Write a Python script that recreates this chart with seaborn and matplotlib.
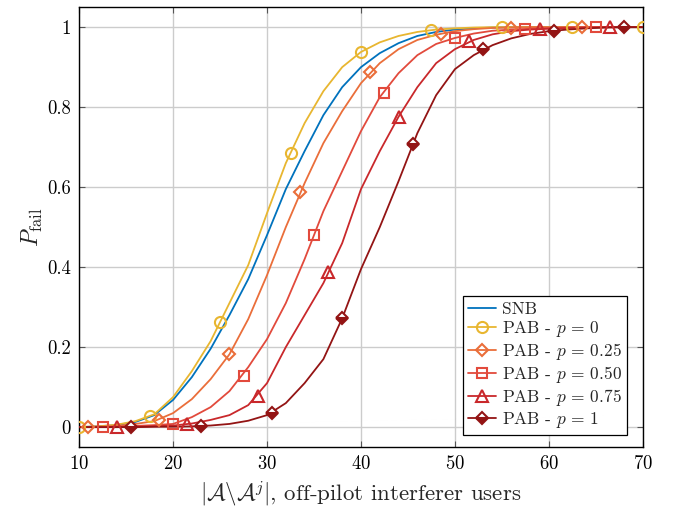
import numpy as np
import pandas as pd
import matplotlib
matplotlib.use("Agg")
import matplotlib.pyplot as plt
from matplotlib.lines import Line2D
import seaborn as sns

# ---------------- data ----------------
x_grid = [10, 12, 14, 16, 18, 20, 22, 24, 26, 28, 30, 32, 34, 36, 38, 40,
          42, 44, 46, 48, 50, 52, 54, 56, 58, 60, 62, 64, 66, 68, 70]

snb = [0, 0.002, 0.005, 0.013, 0.03, 0.068, 0.125, 0.196, 0.28, 0.37, 0.48,
       0.595, 0.69, 0.78, 0.85, 0.90, 0.935, 0.96, 0.978, 0.988, 0.994, 0.997,
       0.999, 1, 1, 1, 1, 1, 1, 1, 1]
pab_0 = [0, 0.002, 0.006, 0.015, 0.032, 0.075, 0.14, 0.215, 0.31, 0.405, 0.535,
         0.66, 0.76, 0.84, 0.90, 0.938, 0.962, 0.978, 0.988, 0.994, 0.997, 0.999,
         1, 1, 1, 1, 1, 1, 1, 1, 1]
pab_025 = [0, 0.001, 0.003, 0.008, 0.015, 0.035, 0.07, 0.12, 0.182, 0.27, 0.38,
           0.50, 0.61, 0.71, 0.79, 0.86, 0.91, 0.945, 0.968, 0.981, 0.99, 0.995,
           0.998, 0.999, 1, 1, 1, 1, 1, 1, 1]
pab_050 = [0, 0, 0.001, 0.003, 0.005, 0.008, 0.025, 0.05, 0.09, 0.15, 0.22,
           0.31, 0.42, 0.54, 0.64, 0.74, 0.825, 0.885, 0.93, 0.958, 0.973, 0.984,
           0.991, 0.994, 0.996, 0.998, 0.999, 1, 1, 1, 1]
pab_075 = [0, 0, 0, 0.001, 0.002, 0.004, 0.009, 0.018, 0.03, 0.055, 0.11,
           0.2, 0.28, 0.36, 0.46, 0.595, 0.69, 0.776, 0.85, 0.91, 0.945, 0.968,
           0.982, 0.99, 0.994, 0.996, 0.998, 0.999, 1, 1, 1]
pab_1 = [0, 0, 0, 0, 0.001, 0.001, 0.002, 0.004, 0.008, 0.016, 0.03,
         0.06, 0.11, 0.17, 0.272, 0.395, 0.5, 0.615, 0.735, 0.83, 0.895, 0.93,
         0.955, 0.972, 0.983, 0.99, 0.994, 0.997, 0.999, 1, 1]

# marker positions
mk_x_0 = [10, 17.5, 25, 32.5, 40, 47.5, 55, 62.5, 70]
mk_y_0 = [0, 0.027, 0.262, 0.686, 0.938, 0.993, 1, 1, 1]
mk_x_025 = [11, 18.5, 26, 33.5, 41, 48.5, 56, 63.5]
mk_y_025 = [0, 0.017, 0.182, 0.589, 0.888, 0.983, 0.999, 1]
mk_x_050 = [12.5, 20, 27.5, 35, 42.5, 50, 57.5, 65]
mk_y_050 = [0, 0.008, 0.127, 0.481, 0.835, 0.973, 0.995, 1]
mk_x_075 = [14, 21.5, 29, 36.5, 44, 51.5, 59, 66.5]
mk_y_075 = [0, 0.007, 0.077, 0.387, 0.776, 0.965, 0.995, 1]
mk_x_1 = [15.5, 23, 30.5, 38, 45.5, 53, 60.5, 68]
mk_y_1 = [0, 0.002, 0.035, 0.272, 0.708, 0.945, 0.99, 1]

labels = ["SNB", r"PAB - $p\,=\,0$", r"PAB - $p\,=\,0.25$", r"PAB - $p\,=\,0.50$",
          r"PAB - $p\,=\,0.75$", r"PAB - $p\,=\,1$"]
x_ticks = [10, 20, 30, 40, 50, 60, 70]
y_ticks = [0, 0.2, 0.4, 0.6, 0.8, 1]
y_ticklabels = ["0", "0.2", "0.4", "0.6", "0.8", "1"]

# ---------------- style ----------------
sns.set_theme(style="whitegrid")
plt.rcParams["font.family"] = ["cmr10", "DejaVu Serif"]
plt.rcParams["mathtext.fontset"] = "cm"
plt.rcParams["axes.formatter.use_mathtext"] = True
plt.rcParams["axes.unicode_minus"] = False

colors = ["#0072BD", "#E8B630", "#EA6E3A", "#E24A3C", "#C9282B", "#931414"]
markers = [None, "o", "D", "s", "^", "D"]
msizes = [0, 8, 6.5, 7.5, 8.5, 6.5]

fig = plt.figure(figsize=(6.76, 5.11), dpi=100)
ax = fig.add_axes([0.117, 0.125, 0.834, 0.861])

series = [snb, pab_0, pab_025, pab_050, pab_075, pab_1]
mks = [(None, None), (mk_x_0, mk_y_0), (mk_x_025, mk_y_025), (mk_x_050, mk_y_050),
       (mk_x_075, mk_y_075), (mk_x_1, mk_y_1)]

for i, (ys, lab) in enumerate(zip(series, labels)):
    df = pd.DataFrame({"x": x_grid, "y": ys})
    sns.lineplot(data=df, x="x", y="y", ax=ax, color=colors[i], linewidth=1.3,
                 zorder=3 + i)

for i in range(1, 6):
    mx, my = mks[i]
    kw = dict(linestyle="none", marker=markers[i], markersize=msizes[i],
              markeredgecolor=colors[i], markeredgewidth=1.5, zorder=10 + i)
    if i == 5:
        kw.update(markerfacecolor=colors[i], fillstyle="bottom",
                  markerfacecoloralt="white")
    else:
        kw.update(markerfacecolor="none")
    ax.plot(mx, my, **kw)

ax.set_xlim(10, 70)
ax.set_ylim(-0.05, 1.05)
ax.set_xticks(x_ticks)
ax.set_yticks(y_ticks)
ax.set_yticklabels(y_ticklabels)
ax.grid(True, color="#cccccc", linewidth=1.0)
ax.set_axisbelow(True)
for s in ax.spines.values():
    s.set_color("black")
    s.set_linewidth(1.0)
ax.tick_params(direction="in", length=4, width=0.8, color="#555555",
               top=True, right=True, bottom=True, left=True,
               labelsize=13.5, pad=6, labelcolor="black")

ax.set_xlabel(r"$|\mathcal{A}\backslash\mathcal{A}^j|$, off-pilot interferer users",
              fontsize=16.5, labelpad=4)
ax.set_ylabel(r"$P_{\mathrm{fail}}$", fontsize=17, labelpad=1)

handles = []
for i in range(6):
    kw = dict(color=colors[i], linewidth=1.3)
    if markers[i] is not None:
        kw.update(marker=markers[i], markersize=msizes[i], markeredgecolor=colors[i],
                  markeredgewidth=1.5)
        if i == 5:
            kw.update(markerfacecolor=colors[i], fillstyle="bottom",
                      markerfacecoloralt="white")
        else:
            kw.update(markerfacecolor="none")
    handles.append(Line2D([], [], **kw))

leg = ax.legend(handles, labels, loc="lower right", bbox_to_anchor=(0.972, 0.027),
                fontsize=12.5, frameon=True, fancybox=False, framealpha=1,
                edgecolor="black", handlelength=1.6, handletextpad=0.35,
                labelspacing=0.12, borderpad=0.3, borderaxespad=0.0)
leg.get_frame().set_linewidth(0.9)

fig.savefig("out.png", dpi=100)
